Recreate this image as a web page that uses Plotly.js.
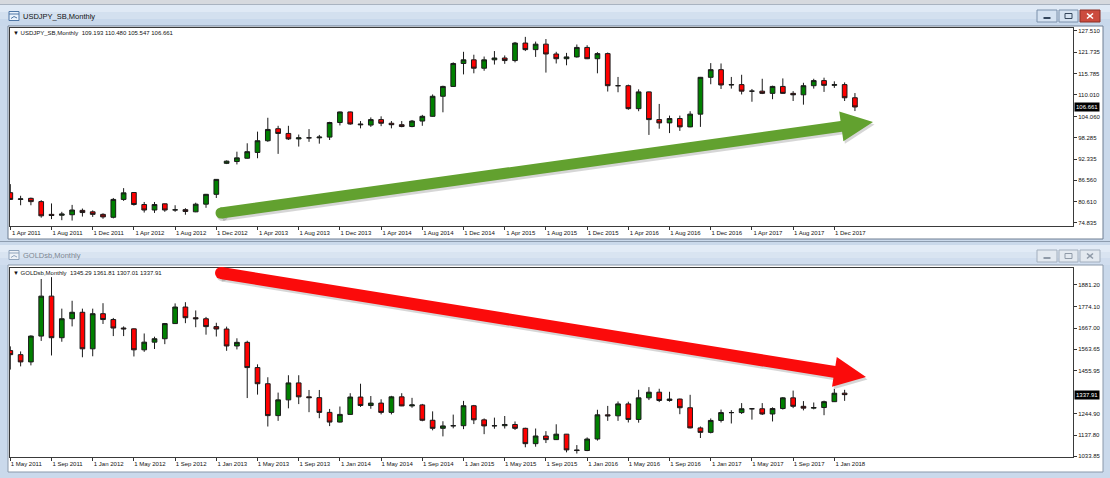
<!DOCTYPE html>
<html>
<head>
<meta charset="utf-8">
<script src="https://cdn.plot.ly/plotly-3.0.1.min.js"></script>
<style>
html,body{margin:0;padding:0;background:#cddbec;}
#chart{width:1110px;height:478px;}
</style>
</head>
<body>
<div id="chart"></div>
<script>
// ---------------- DATA ----------------
const months = [
 "2011-04","2011-05","2011-06","2011-07","2011-08","2011-09","2011-10","2011-11","2011-12",
 "2012-01","2012-02","2012-03","2012-04","2012-05","2012-06","2012-07","2012-08","2012-09","2012-10","2012-11","2012-12",
 "2013-01","2013-02","2013-03","2013-04","2013-05","2013-06","2013-07","2013-08","2013-09","2013-10","2013-11","2013-12",
 "2014-01","2014-02","2014-03","2014-04","2014-05","2014-06","2014-07","2014-08","2014-09","2014-10","2014-11","2014-12",
 "2015-01","2015-02","2015-03","2015-04","2015-05","2015-06","2015-07","2015-08","2015-09","2015-10","2015-11","2015-12",
 "2016-01","2016-02","2016-03","2016-04","2016-05","2016-06","2016-07","2016-08","2016-09","2016-10","2016-11","2016-12",
 "2017-01","2017-02","2017-03","2017-04","2017-05","2017-06","2017-07","2017-08","2017-09","2017-10","2017-11","2017-12",
 "2018-01","2018-02"];

// USDJPY_SB monthly (Apr 2011 - Feb 2018)
const jpyOpen = [
 83.15,81.30,81.60,80.70,77.20,76.95,77.10,78.30,77.90,
 77.20,76.40,81.30,83.20,79.90,78.40,80.10,78.40,78.50,77.90,80.00,82.70,
 91.20,91.70,92.60,94.20,97.40,100.70,99.40,97.90,98.20,98.20,98.40,102.40,
 105.30,102.00,101.70,103.20,102.20,101.80,101.30,102.80,104.10,109.60,112.30,118.60,
 119.60,117.30,119.60,120.10,119.40,124.20,122.40,123.90,121.20,119.90,120.40,123.00,
 119.90,121.30,112.50,112.50,106.20,110.80,103.20,102.30,103.50,101.20,104.70,114.80,
 116.90,112.70,112.80,111.00,111.00,110.40,112.30,110.40,110.00,112.50,113.90,112.60,
 112.80,109.193];
const jpyHigh = [
 85.50,82.30,81.80,81.10,80.20,77.90,79.80,78.80,78.30,
 77.50,81.70,84.40,83.30,80.60,80.60,80.00,79.70,78.90,80.40,82.80,86.90,
 92.00,94.40,96.70,99.90,103.70,101.50,101.50,99.10,100.60,99.00,102.60,105.40,
 105.40,102.80,103.80,104.10,102.80,102.80,103.10,104.50,110.10,112.50,118.90,121.80,
 121.00,120.50,122.00,120.80,124.50,125.90,124.60,125.30,121.80,121.50,123.80,123.60,
 121.70,121.60,114.90,112.80,111.50,110.90,107.50,104.30,104.30,105.50,114.90,118.70,
 118.60,114.90,115.50,111.60,114.40,112.50,114.50,111.00,113.30,114.40,114.70,113.70,
 113.40,110.480];
const jpyLow = [
 81.20,79.70,79.70,76.30,75.90,75.60,75.50,76.60,76.50,
 76.00,76.10,80.90,79.60,77.70,77.60,77.90,77.90,77.10,77.80,79.00,81.70,
 91.00,90.90,92.50,92.60,97.10,93.80,97.60,95.80,97.10,96.60,97.60,101.60,
 101.80,100.80,101.20,101.40,100.80,101.10,101.10,101.50,104.00,105.20,112.20,115.60,
 115.90,116.60,118.30,118.50,118.90,122.00,120.40,116.10,118.60,118.10,120.20,119.80,
 115.90,110.90,110.70,105.90,105.50,99.00,100.70,99.50,100.10,101.10,101.20,112.90,
 111.60,111.70,110.10,108.10,110.20,108.80,110.60,108.30,107.30,111.70,110.80,111.90,
 108.30,105.547];
const jpyClose = [
 81.30,81.45,80.70,76.80,76.90,77.30,78.40,77.70,77.20,
 76.50,81.30,83.10,79.90,78.40,79.90,78.40,78.45,78.00,80.00,82.70,86.80,
 91.80,92.70,94.40,97.40,100.50,99.40,97.90,98.20,98.20,98.40,102.40,105.30,
 102.00,101.80,103.20,102.20,101.80,101.30,102.80,104.10,109.60,112.30,118.60,119.60,
 117.30,119.60,120.10,119.40,124.20,122.40,123.90,121.20,119.90,120.40,123.00,119.90,
 121.30,112.50,112.50,106.20,110.80,103.20,102.30,103.50,101.20,104.70,114.80,116.90,
 112.70,112.80,111.00,111.00,110.40,112.30,110.40,110.00,112.50,113.90,112.60,112.80,
 109.193,106.661];

// GOLDsb monthly (May 2011 - Feb 2018)
const goldMonths = months.slice(1);
const goldOpen = [
 1556,1536,1500,1628,1826,1620,1714,1746,
 1565,1739,1710,1668,1664,1560,1598,1615,1690,1772,1719,1714,
 1675,1663,1579,1597,1472,1392,1234,1312,1396,1327,1323,1250,
 1202,1240,1326,1284,1296,1250,1327,1282,1287,1211,1171,1183,
 1184,1283,1213,1183,1184,1190,1171,1095,1133,1115,1142,1064,
 1061,1118,1238,1233,1292,1215,1322,1350,1309,1316,1273,1173,
 1151,1210,1249,1249,1268,1268,1242,1269,1322,1280,1271,1274,
 1303,1345.29];
const goldHigh = [
 1577,1552,1632,1911,1920,1764,1803,1764,
 1764,1791,1718,1676,1666,1641,1625,1693,1790,1796,1755,1723,
 1694,1675,1617,1605,1488,1424,1348,1434,1434,1361,1361,1267,
 1279,1345,1392,1331,1315,1332,1345,1322,1292,1255,1206,1239,
 1307,1287,1220,1224,1232,1205,1174,1170,1157,1191,1143,1088,
 1126,1263,1282,1304,1303,1362,1375,1367,1352,1318,1337,1180,
 1220,1264,1261,1296,1270,1296,1275,1326,1358,1306,1299,1308,
 1366,1361.81];
const goldLow = [
 1462,1478,1483,1604,1532,1600,1676,1523,
 1528,1688,1628,1628,1527,1550,1564,1588,1688,1692,1672,1635,
 1626,1555,1562,1321,1338,1180,1208,1270,1291,1251,1221,1182,
 1200,1238,1277,1268,1240,1240,1281,1273,1206,1161,1131,1171,
 1167,1192,1142,1169,1170,1163,1077,1080,1098,1113,1052,1046,
 1058,1110,1208,1208,1200,1199,1311,1301,1303,1241,1171,1123,
 1146,1200,1195,1242,1214,1237,1205,1264,1271,1260,1265,1236,
 1302,1307.01];
const goldClose = [
 1536,1500,1628,1826,1620,1714,1746,1565,
 1739,1710,1668,1664,1560,1598,1615,1690,1772,1719,1714,1675,
 1663,1579,1597,1472,1392,1234,1312,1396,1327,1323,1250,1202,
 1240,1326,1284,1296,1250,1327,1282,1287,1211,1171,1183,1184,
 1283,1213,1183,1184,1190,1171,1095,1133,1115,1142,1064,1061,
 1118,1238,1233,1292,1215,1322,1350,1309,1316,1273,1173,1151,
 1210,1249,1249,1268,1268,1242,1269,1322,1280,1271,1274,1303,
 1345,1337.91];

// Axis ticks
const jpyTickVals = ["2011-04","2011-08","2011-12","2012-04","2012-08","2012-12","2013-04","2013-08","2013-12","2014-04","2014-08","2014-12","2015-04","2015-08","2015-12","2016-04","2016-08","2016-12","2017-04","2017-08","2017-12"];
const jpyTickText = ["1 Apr 2011","1 Aug 2011","1 Dec 2011","1 Apr 2012","1 Aug 2012","1 Dec 2012","1 Apr 2013","1 Aug 2013","1 Dec 2013","1 Apr 2014","1 Aug 2014","1 Dec 2014","1 Apr 2015","1 Aug 2015","1 Dec 2015","1 Apr 2016","1 Aug 2016","1 Dec 2016","1 Apr 2017","1 Aug 2017","1 Dec 2017"];
const goldTickVals = ["2011-05","2011-09","2012-01","2012-05","2012-09","2013-01","2013-05","2013-09","2014-01","2014-05","2014-09","2015-01","2015-05","2015-09","2016-01","2016-05","2016-09","2017-01","2017-05","2017-09","2018-01"];
const goldTickText = ["1 May 2011","1 Sep 2011","1 Jan 2012","1 May 2012","1 Sep 2012","1 Jan 2013","1 May 2013","1 Sep 2013","1 Jan 2014","1 May 2014","1 Sep 2014","1 Jan 2015","1 May 2015","1 Sep 2015","1 Jan 2016","1 May 2016","1 Sep 2016","1 Jan 2017","1 May 2017","1 Sep 2017","1 Jan 2018"];
const jpyPriceTicks = [127.510,121.735,115.785,110.010,104.060,98.285,92.335,86.560,80.610,74.835];
const goldPriceTicks = [1881.20,1774.10,1667.00,1563.65,1455.95,1244.90,1137.80,1033.85];

// ---------------- LAYOUT HELPERS ----------------
const W = 1110, H = 478;
const px = x => x / W;
const py = y => 1 - y / H;
const FONT = 'Liberation Sans, Arial, sans-serif';
const shapes = [];
function rect(x0, y0, x1, y1, fill, line, lw, layer) {
  shapes.push({type:'rect', xref:'paper', yref:'paper', x0:px(x0), x1:px(x1), y0:py(y1), y1:py(y0),
    fillcolor: fill || 'rgba(0,0,0,0)', line:{color: line || 'rgba(0,0,0,0)', width: line ? (lw || 1) : 0}, layer: layer || 'below'});
}
function seg(x0, y0, x1, y1, color, w, layer) {
  shapes.push({type:'line', xref:'paper', yref:'paper', x0:px(x0), x1:px(x1), y0:py(y0), y1:py(y1),
    line:{color:color, width:w || 1}, layer: layer || 'below'});
}

// window chrome
rect(0, 0, 1110, 5, '#d6d9de');
seg(0, 4.5, 1110, 4.5, '#a9b3c0', 1);
// window 1
rect(0, 5, 1110, 12, '#dfe9f5');
rect(0, 12, 1110, 19, '#d3e0ef');
rect(0, 19, 1110, 26, '#c8d8eb');
rect(8, 26, 1103, 239, '#ffffff', '#6f7f93', 1);
seg(0, 241.5, 1110, 241.5, '#8e9db0', 1);
// window 2
rect(0, 245, 1110, 252, '#e2ebf6');
rect(0, 252, 1110, 258, '#d9e4f1');
rect(0, 258, 1110, 265, '#d0ddee');
rect(8, 265, 1103, 472, '#ffffff', '#8a98aa', 1);

// title icons
function icon(y, active) {
  const c = active ? '#4f77a6' : '#8fa3bb';
  rect(9, y, 19, y + 9, active ? '#eaf2fb' : '#eef2f7', c, 1);
  seg(9, y + 2.5, 19, y + 2.5, c, 1);
  seg(11, y + 7, 14, y + 5, c, 1);
  seg(14, y + 5, 17, y + 6.5, c, 1);
}
icon(11.5, true);
icon(250.5, false);

// window buttons
function buttons(y, active) {
  const b = active ? '#7b90ab' : '#a3afbe';
  const f = active ? '#d5e2f1' : '#e3e9f0';
  const g = active ? '#34465c' : '#8f9aa8';
  rect(1037, y, 1057, y + 12, f, b, 1);
  seg(1043.5, y + 8, 1050.5, y + 8, g, 2);
  rect(1059, y, 1078, y + 12, f, b, 1);
  rect(1065, y + 3.5, 1072, y + 8.5, 'rgba(0,0,0,0)', g, 1);
  rect(1080, y, 1100, y + 12, active ? '#cc4b3e' : f, active ? '#8b2e24' : b, 1);
  const xc = active ? '#ffffff' : g;
  seg(1087, y + 3.5, 1093, y + 8.5, xc, 1.6);
  seg(1087, y + 8.5, 1093, y + 3.5, xc, 1.6);
}
buttons(10, true);
buttons(250, false);

// arrows
function arrow(tail, tip, hw, headLen, headHalf, color) {
  const dx = tip[0] - tail[0], dy = tip[1] - tail[1];
  const L = Math.hypot(dx, dy);
  const ux = dx / L, uy = dy / L;
  const nx = -uy, ny = ux;
  const bx = tip[0] - headLen * ux, by = tip[1] - headLen * uy;
  const pts = [
    [tail[0] + nx * hw, tail[1] + ny * hw],
    [bx + nx * hw, by + ny * hw],
    [bx + nx * headHalf, by + ny * headHalf],
    [tip[0], tip[1]],
    [bx - nx * headHalf, by - ny * headHalf],
    [bx - nx * hw, by - ny * hw],
    [tail[0] - nx * hw, tail[1] - ny * hw]
  ];
  function add(off, fill) {
    const path = 'M ' + pts.map(p => px(p[0] + off[0]) + ',' + py(p[1] + off[1])).join(' L ') + ' Z';
    shapes.push({type:'path', xref:'paper', yref:'paper', path:path, fillcolor:fill, line:{width:0}, layer:'above'});
    shapes.push({type:'circle', xref:'paper', yref:'paper',
      x0:px(tail[0] + off[0] - hw), x1:px(tail[0] + off[0] + hw),
      y0:py(tail[1] + off[1] + hw), y1:py(tail[1] + off[1] - hw),
      fillcolor:fill, line:{width:0}, layer:'above'});
  }
  add([1.5, 2.5], 'rgba(70,70,70,0.22)');
  add([0, 0], color);
}
arrow([221, 213], [873, 122], 5.5, 32, 15, '#62a12f');
arrow([221, 273], [866, 377], 6, 32, 15, '#fb0b0b');

// ---------------- TRACES ----------------
const candleStyle = {
  increasing:{line:{color:'#1a1a1a', width:1}, fillcolor:'#008000'},
  decreasing:{line:{color:'#1a1a1a', width:1}, fillcolor:'#ff0000'},
  whiskerwidth:0, hoverinfo:'skip', showlegend:false
};
const traces = [
  Object.assign({type:'candlestick', x:months, open:jpyOpen, high:jpyHigh, low:jpyLow, close:jpyClose, xaxis:'x', yaxis:'y'}, candleStyle),
  Object.assign({type:'candlestick', x:goldMonths, open:goldOpen, high:goldHigh, low:goldLow, close:goldClose, xaxis:'x2', yaxis:'y2'}, candleStyle)
];

// ---------------- AXES ----------------
const tickFont = {family:FONT, size:6, color:'#111'};
function xAxis(anchor, vals, text) {
  return {type:'category', domain:[px(10), px(1073)], anchor:anchor, range:[-0.03, 103.17],
    tickvals:vals, ticktext:text, ticks:'outside', ticklen:3, tickcolor:'#333', tickfont:tickFont,
    ticklabelshift:16, ticklabelstandoff:-2, showline:true, linecolor:'#3a3a3a', linewidth:1, mirror:true,
    showgrid:false, zeroline:false, rangeslider:{visible:false}, fixedrange:true};
}
function yAxis(anchor, dom, range, vals, dec) {
  return {domain:dom, anchor:anchor, side:'right', range:range,
    tickvals:vals, ticktext:vals.map(v => v.toFixed(dec)), ticks:'outside', ticklen:3, tickcolor:'#333',
    tickfont:tickFont, showline:true, linecolor:'#3a3a3a', linewidth:1, mirror:true,
    showgrid:false, zeroline:false, fixedrange:true};
}

const jl = jpyClose.length - 1, gl = goldClose.length - 1;
const info1 = '\u25BC USDJPY_SB,Monthly\u00a0\u00a0' + [jpyOpen[jl], jpyHigh[jl], jpyLow[jl], jpyClose[jl]].map(v => v.toFixed(3)).join(' ');
const info2 = '\u25BC GOLDsb,Monthly\u00a0\u00a0' + [goldOpen[gl], goldHigh[gl], goldLow[gl], goldClose[gl]].map(v => v.toFixed(2)).join(' ');

const annotations = [
  {xref:'paper', yref:'paper', x:px(21), y:py(16.5), xanchor:'left', yanchor:'middle', showarrow:false,
   text:'USDJPY_SB,Monthly', font:{family:FONT, size:7.5, color:'#111'}},
  {xref:'paper', yref:'paper', x:px(21), y:py(255.5), xanchor:'left', yanchor:'middle', showarrow:false,
   text:'GOLDsb,Monthly', font:{family:FONT, size:7.5, color:'#7d8792'}},
  {xref:'paper', yref:'paper', x:px(11), y:py(33), xanchor:'left', yanchor:'middle', showarrow:false,
   text:info1, font:{family:FONT, size:6, color:'#111'}},
  {xref:'paper', yref:'paper', x:px(11), y:py(273), xanchor:'left', yanchor:'middle', showarrow:false,
   text:info2, font:{family:FONT, size:6, color:'#111'}},
  {xref:'paper', yref:'y', x:px(1074), y:jpyClose[jl], xanchor:'left', yanchor:'middle', showarrow:false,
   text:jpyClose[jl].toFixed(3), font:{family:FONT, size:6, color:'#ffffff'}, bgcolor:'#000000', borderpad:1},
  {xref:'paper', yref:'y2', x:px(1074), y:goldClose[gl], xanchor:'left', yanchor:'middle', showarrow:false,
   text:goldClose[gl].toFixed(2), font:{family:FONT, size:6, color:'#ffffff'}, bgcolor:'#000000', borderpad:1}
];

const layout = {
  width:W, height:H, margin:{l:0, r:0, t:0, b:0},
  paper_bgcolor:'#cad9eb', plot_bgcolor:'rgba(0,0,0,0)',
  showlegend:false, hovermode:false, boxgap:0.35, dragmode:false,
  xaxis:xAxis('y', jpyTickVals, jpyTickText),
  yaxis:yAxis('x', [py(226), py(28)], [74.01, 128.33], jpyPriceTicks, 3),
  xaxis2:xAxis('y2', goldTickVals, goldTickText),
  yaxis2:yAxis('x2', [py(457), py(268)], [1028.9, 1965.4], goldPriceTicks, 2),
  shapes:shapes, annotations:annotations
};

Plotly.newPlot('chart', traces, layout, {displayModeBar:false, staticPlot:true});
</script>
</body>
</html>
